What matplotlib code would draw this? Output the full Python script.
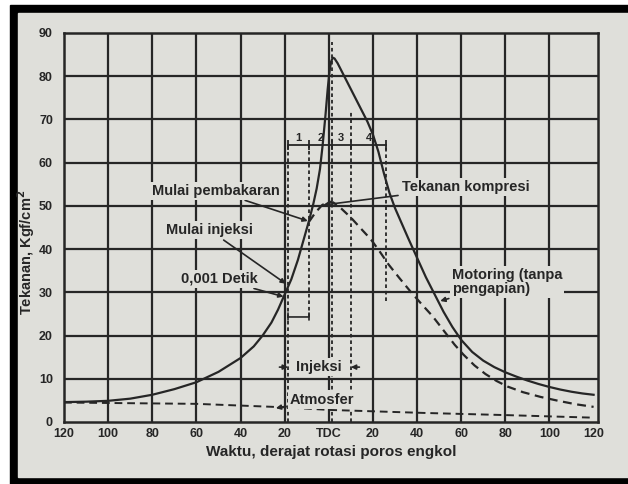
import numpy as np
import matplotlib.pyplot as plt
from matplotlib.patches import Rectangle

plt.rcParams['font.family'] = ['Liberation Sans', 'DejaVu Sans']
plt.rcParams['font.weight'] = 'bold'

ink = '#262626'
paper = '#dfdfda'

# cylinder pressure with combustion (solid line)
burn_deg = [-120, -110, -100, -90, -80, -70, -60, -50, -40, -34, -30, -26, -23, -20, -17, -14,
            -11.5, -9, -7, -5.5, -4, -2.8, -1.5, -0.5, 0.3, 1, 1.8, 2.6, 4, 6, 8, 10, 12.5,
            15, 17.5, 20, 22.5, 25, 27.5, 30, 33, 36, 40, 44, 48, 52, 56, 60, 65, 70, 75,
            80, 85, 90, 95, 100, 105, 110, 115, 120]
burn_p = [4.6, 4.7, 4.9, 5.4, 6.3, 7.6, 9.2, 11.6, 14.8, 17.5, 20, 23, 26, 29.5, 33, 37.5,
          42, 46.5, 50.5, 54, 58.5, 64, 71, 77, 81, 83.3, 84.3, 84.1, 83, 81, 79, 77, 74.5,
          72, 69.5, 66.5, 62.5, 57.5, 53, 49.5, 46, 42.5, 38, 33.5, 29.5, 25.5, 22, 19, 16.2,
          14.2, 12.7, 11.5, 10.5, 9.6, 8.8, 8.1, 7.5, 7.0, 6.6, 6.3]

# motoring pressure, no ignition (dashed)
mot_deg = [-9, -6, -3, 0, 2, 5, 10, 15, 19, 23, 27, 32, 37, 42, 47, 52, 57, 61, 66, 71,
           76, 81, 88, 96, 104, 112, 120]
mot_p = [46.3, 48.5, 50.2, 51, 50.8, 49.7, 47.3, 44.5, 42.3, 39.5, 36.5, 33.3, 30.2, 27.3,
         24.5, 21.2, 17.9, 15.6, 13.1, 11.1, 9.5, 8.2, 6.9, 5.8, 4.9, 4.1, 3.5]

# atmospheric line (dashed)
atm_deg = [-120, -60, -20, 0, 43, 80, 120]
atm_p = [4.5, 4.2, 3.4, 2.8, 2.1, 1.6, 1.0]

# combustion stage boundaries
stage_deg = [-18.5, -9, 1.3, 10, 26]
stage_top = [64.1, 64.1, 88, 72, 64.1]
stage_bottom = [0, 24.3, 0, 0, 28]
stage_labels = ['1', '2', '3', '4']
bracket_p = 64.1
detik_p = 24.3

xticks = [-120, -100, -80, -60, -40, -20, 0, 20, 40, 60, 80, 100, 120]
xlabels = ['120', '100', '80', '60', '40', '20', 'TDC', '20', '40', '60', '80', '100', '120']
yticks = [0, 10, 20, 30, 40, 50, 60, 70, 80, 90]

fig = plt.figure(figsize=(6.28, 4.84), dpi=100, facecolor='white')
fig.patches.append(Rectangle((10/628, 0), 1, 479/484, transform=fig.transFigure,
                             color='black', zorder=-3))
fig.patches.append(Rectangle((18/628, 7/484), 1, 464/484, transform=fig.transFigure,
                             color=paper, zorder=-2))

ax = fig.add_axes([64/628, 62/484, 534/628, 389/484])
ax.set_facecolor('none')
ax.set_xlim(-120, 122)
ax.set_ylim(0, 90)

for x in xticks[1:-1]:
    ax.axvline(x, color=ink, lw=1.6, zorder=1)
for y in yticks[1:-1]:
    ax.axhline(y, color=ink, lw=1.6, zorder=1)
for s in ax.spines.values():
    s.set_linewidth(1.8)
    s.set_color(ink)

ax.set_xticks(xticks)
ax.set_xticklabels(xlabels)
ax.set_yticks(yticks)
ax.tick_params(length=0, labelsize=9, colors=ink)
ax.tick_params(axis='x', pad=4)
ax.tick_params(axis='y', pad=8)

ax.plot(burn_deg, burn_p, color=ink, lw=1.6, zorder=3)
ax.plot(mot_deg, mot_p, color=ink, lw=1.6, ls=(0, (4, 2.5)), zorder=3)
ax.plot(atm_deg, atm_p, color=ink, lw=1.4, ls=(0, (4, 2.5)), zorder=3)

ax.vlines(stage_deg, stage_bottom, stage_top, color=ink, lw=1.3,
          linestyles=(0, (2, 1.6)), zorder=2)
ax.plot([stage_deg[0], stage_deg[-1]], [bracket_p, bracket_p], color=ink, lw=1.3, zorder=3)
ax.vlines(stage_deg, bracket_p - 1.2, bracket_p + 1.2, color=ink, lw=1.3, zorder=3)
for i, lab in enumerate(stage_labels):
    ax.text((stage_deg[i] + stage_deg[i+1]) / 2, bracket_p + 0.4, lab, ha='center',
            va='bottom', fontsize=8, color=ink, zorder=4)

box = dict(boxstyle='square,pad=0.15', fc=paper, ec='none')
arr = dict(arrowstyle='-|>', lw=1.2, color=ink, mutation_scale=7, shrinkA=1, shrinkB=0)
tsize = 10.5

ax.annotate('Mulai pembakaran', xy=(-9.5, 46.5), xytext=(-22.2, 53.5), ha='right',
            va='center', fontsize=tsize, color=ink, bbox=box, arrowprops=arr, zorder=5)
ax.annotate('Mulai injeksi', xy=(-19.5, 32), xytext=(-34.4, 44.4), ha='right',
            va='center', fontsize=tsize, color=ink, bbox=box, arrowprops=arr, zorder=5)
ax.annotate('0,001 Detik', xy=(-20.5, 29), xytext=(-32.2, 33.1), ha='right',
            va='center', fontsize=tsize, color=ink, bbox=box, arrowprops=arr, zorder=5)
ax.annotate('Tekanan kompresi', xy=(-2.6, 50.2), xytext=(33, 54.4), ha='left',
            va='center', fontsize=tsize, color=ink, bbox=box, arrowprops=arr, zorder=5)
ax.annotate('Motoring (tanpa\npengapian)', xy=(50.5, 28), xytext=(55.7, 32.4), ha='left',
            va='center', fontsize=tsize, color=ink, bbox=box, arrowprops=arr,
            linespacing=1.0, zorder=5)
ax.annotate('Atmosfer', xy=(-24, 3.2), xytext=(-17.7, 5.2), ha='left',
            va='center', fontsize=tsize, color=ink, bbox=box, arrowprops=arr, zorder=5)

ax.text(-4.5, 12.7, 'Injeksi', ha='center', va='center', fontsize=tsize, color=ink,
        bbox=box, zorder=5)
ax.annotate('', xy=(stage_deg[0], 12.7), xytext=(stage_deg[0] - 4.5, 12.7), arrowprops=arr, zorder=5)
ax.annotate('', xy=(stage_deg[3], 12.7), xytext=(stage_deg[3] + 4.5, 12.7), arrowprops=arr, zorder=5)
ax.annotate('', xy=(stage_deg[1], detik_p), xytext=(stage_deg[0], detik_p),
            arrowprops=dict(arrowstyle='|-|,widthA=0.25,widthB=0.25', lw=1.2, color=ink,
                            shrinkA=0, shrinkB=0), zorder=5)

fig.text(331/628, 1 - 452/484, 'Waktu, derajat rotasi poros engkol', ha='center',
         va='center', fontsize=11, color=ink)
fig.text(26/628, 1 - 252/484, 'Tekanan, Kgf/cm$^\\mathbf{2}$', ha='center', va='center',
         rotation=90, fontsize=10.5, color=ink)

fig.savefig('out.png', dpi=100)
